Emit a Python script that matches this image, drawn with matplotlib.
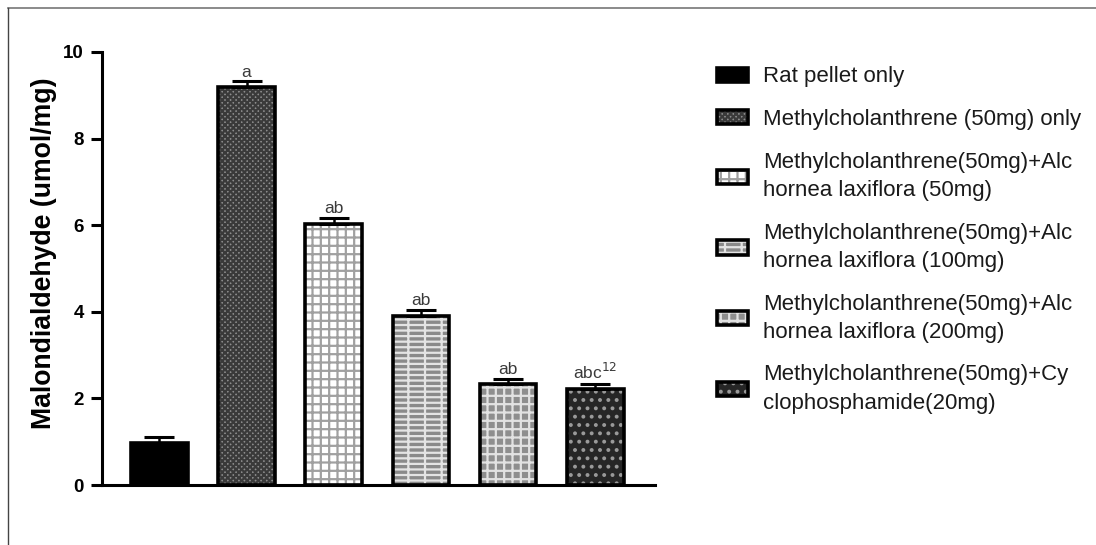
import matplotlib
matplotlib.use("Agg")
import matplotlib.pyplot as plt
from matplotlib.lines import Line2D
from matplotlib.patches import Patch
from matplotlib.legend_handler import HandlerTuple

plt.rcParams['font.family'] = ['Liberation Sans', 'DejaVu Sans']

groups = ["Rat pellet only",
          "Methylcholanthrene (50mg) only",
          "Methylcholanthrene(50mg)+Alc\nhornea laxiflora (50mg)",
          "Methylcholanthrene(50mg)+Alc\nhornea laxiflora (100mg)",
          "Methylcholanthrene(50mg)+Alc\nhornea laxiflora (200mg)",
          "Methylcholanthrene(50mg)+Cy\nclophosphamide(20mg)"]
means = [0.98, 9.19, 6.03, 3.90, 2.33, 2.22]
errors = [0.12, 0.13, 0.14, 0.14, 0.12, 0.11]
letters = ["", "a", "ab", "ab", "ab", r"abc$^{12}$"]
yticks = [0, 2, 4, 6, 8, 10]

faces = ['black', '#8c8c8c', '#ffffff', '#8a8a8a', '#8e8e8e', '#262626']
hatch_colors = ['black', '#3a3a3a', '#a0a0a0', '#e4e4e4', '#e2e2e2', '#9a9a9a']
hatches = [None, 'xxxxxx', '++', '---|', '++', '..']

plt.rcParams['hatch.linewidth'] = 1.6

fig = plt.figure(figsize=(10.96, 5.45), dpi=100)
ax = fig.add_axes([0.093, 0.110, 0.505, 0.7946])

x = list(range(len(means)))
for i in x:
    ax.bar(i, means[i], width=0.65, color=faces[i], edgecolor=hatch_colors[i],
           hatch=hatches[i], linewidth=0, zorder=2)
ax.bar(x, means, width=0.65, color='none', edgecolor='black', linewidth=2.6, zorder=3)
ax.errorbar(x, means, yerr=[[0]*len(errors), errors], fmt='none', ecolor='black',
            elinewidth=1.8, capsize=11, capthick=2.2, zorder=4)

for i in x:
    if letters[i]:
        ax.text(i, means[i] + errors[i] + 0.04, letters[i], ha='center', va='bottom',
                fontsize=12.5, color='#3a3a3a')

ax.set_ylim(0, 10)
ax.set_xlim(-0.66, 5.69)
ax.set_yticks(yticks)
ax.set_yticklabels([str(t) for t in yticks], fontweight='bold', fontsize=13.5)
ax.set_xticks([])
ax.set_ylabel("Malondialdehyde (umol/mg)", fontweight='bold', fontsize=19.2)
ax.yaxis.set_label_coords(-0.081, 0.535)
for s in ['top', 'right']:
    ax.spines[s].set_visible(False)
for s in ['left', 'bottom']:
    ax.spines[s].set_linewidth(2.2)
ax.tick_params(axis='y', width=2.2, length=8, pad=5)

handles = []
for i in x:
    handles.append((Patch(facecolor=faces[i], edgecolor=hatch_colors[i], linewidth=0,
                          hatch=hatches[i]),
                    Patch(facecolor='none', edgecolor='black', linewidth=2.6)))
leg = fig.legend(handles, groups, loc='upper left', bbox_to_anchor=(0.654, 0.878),
                 frameon=False, fontsize=16, handlelength=1.4, handleheight=0.6,
                 handletextpad=0.7, labelspacing=0.98, borderpad=0, borderaxespad=0,
                 handler_map={tuple: HandlerTuple(ndivide=1, pad=0)})
for t in leg.get_texts():
    t.set_linespacing(1.44)
    t.set_color('#1a1a1a')

fig.add_artist(Line2D([8/1096, 1], [1-8/545, 1-8/545], color='#777777', linewidth=1.2))
fig.add_artist(Line2D([8/1096, 8/1096], [0, 1-8/545], color='#444444', linewidth=1.0))

fig.savefig("out.png", dpi=100)
